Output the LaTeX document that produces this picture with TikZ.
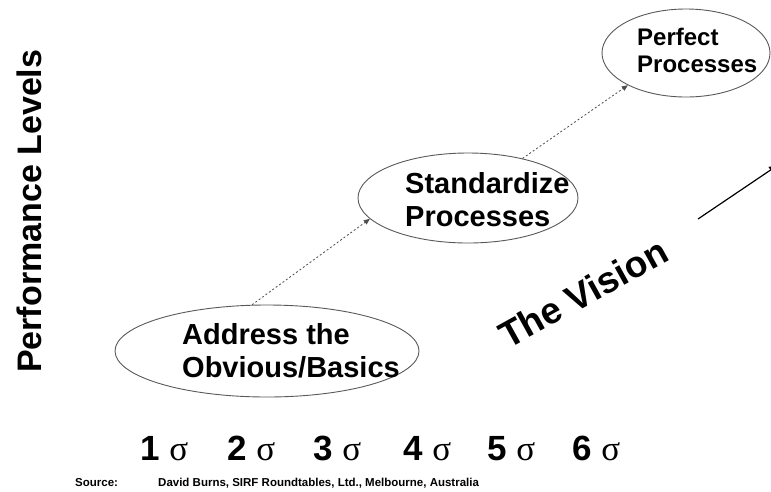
\documentclass[tikz,border=0pt]{standalone}
\usepackage{fontspec}
\setmainfont{Liberation Sans}
\newfontfamily\serifsig{Liberation Serif}
\usetikzlibrary{shapes.geometric,arrows.meta}
\begin{document}
\begin{tikzpicture}[x=1pt,y=-1pt,
  oval/.style={ellipse, draw=black!65, line width=0.9pt, inner sep=0pt},
  biglbl/.style={font=\bfseries\fontsize{29}{32.5}\selectfont, align=left, inner sep=0pt, anchor=base west},
  smalllbl/.style={font=\bfseries\fontsize{24}{27}\selectfont, align=left, inner sep=0pt, anchor=base west},
  dotarrow/.style={draw=black!70, line width=0.8pt, dash pattern=on 2pt off 2.2pt, -{Triangle[length=6pt,width=5pt]}},
  sig/.style={font=\bfseries\fontsize{35}{35}\selectfont, inner sep=0pt, anchor=base west},
  srcstyle/.style={font=\bfseries\fontsize{11.5}{12}\selectfont, inner sep=0pt, anchor=base west}]
\useasboundingbox (0,0) rectangle (771,491);

\node[oval, minimum width=304pt, minimum height=92pt] (e1) at (267,351) {};
\node[oval, minimum width=220pt, minimum height=90pt] (e2) at (468,198) {};
\node[oval, minimum width=168pt, minimum height=88pt] (e3) at (686,53) {};

\node[biglbl] (t1) at (182,377) {Address the\\Obvious/Basics};
\node[biglbl] (t2) at (405,226) {Standardize\\Processes};
\node[smalllbl] (t3) at (637,72) {Perfect\\Processes};

\draw[dotarrow] (e1.108) -- (e2.192);
\draw[dotarrow] (e2.36) -- (e3.209);

\node[font=\bfseries\fontsize{34}{34}\selectfont, inner sep=0pt, anchor=base west, rotate=90] (perf) at (41,373) {Performance Levels};

\node[font=\bfseries\fontsize{37}{37}\selectfont, inner sep=0pt, anchor=base west, rotate=29] (vision) at (508,350) {The Vision};

\coordinate (v1) at (698,219);
\coordinate (v2) at (778,165);
\draw[line width=1.2pt, -{Triangle[length=9pt,width=7pt]}] (v1) -- (v2);

\node[sig] (s1) at (140,460) {1 {\serifsig\mdseries σ}};
\node[sig] (s2) at (227,460) {2 {\serifsig\mdseries σ}};
\node[sig] (s3) at (313,460) {3 {\serifsig\mdseries σ}};
\node[sig] (s4) at (403,460) {4 {\serifsig\mdseries σ}};
\node[sig] (s5) at (487,460) {5 {\serifsig\mdseries σ}};
\node[sig] (s6) at (572,460) {6 {\serifsig\mdseries σ}};

\node[srcstyle] (src) at (75,486) {Source:};
\node[srcstyle] (cite) at (158,486) {David Burns, SIRF Roundtables, Ltd., Melbourne, Australia};
\end{tikzpicture}
\end{document}
